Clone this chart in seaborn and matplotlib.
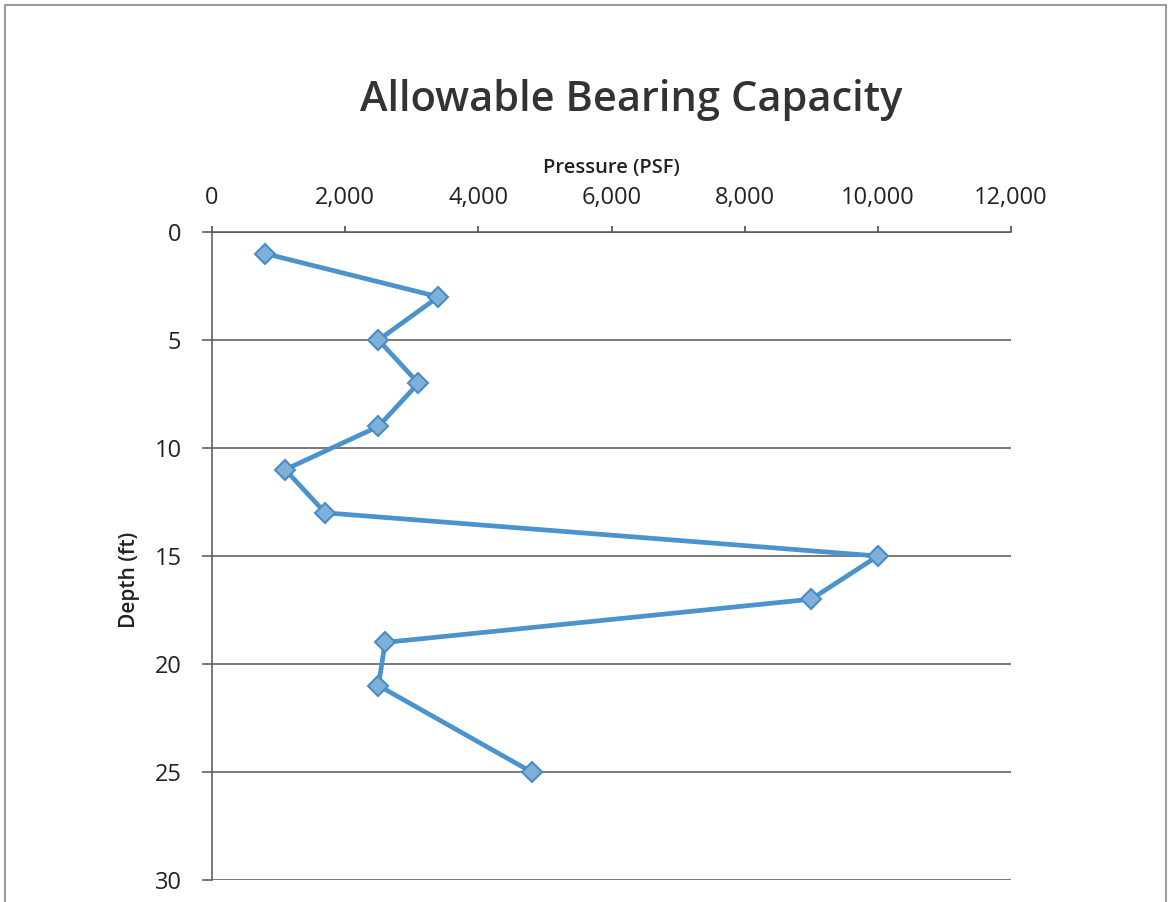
import matplotlib
matplotlib.use("Agg")
import matplotlib.pyplot as plt
import seaborn as sns
import pandas as pd
from matplotlib.ticker import FuncFormatter
from matplotlib.patches import Rectangle

depth_ft = [1, 3, 5, 7, 9, 11, 13, 15, 17, 19, 21, 25]
pressure_psf = [800, 3400, 2500, 3100, 2500, 1100, 1700, 10000, 9000, 2600, 2500, 4800]
x_ticks = [0, 2000, 4000, 6000, 8000, 10000, 12000]
y_ticks = [0, 5, 10, 15, 20, 25, 30]

df = pd.DataFrame({"Pressure": pressure_psf, "Depth": depth_ft})

sns.set_theme(style="white")
plt.rcParams['font.family'] = ['Open Sans', 'DejaVu Sans']

W, H = 1171, 902
fig = plt.figure(figsize=(W / 100, H / 100), dpi=100)
fig.patch.set_facecolor("white")
ax = fig.add_axes([212 / W, (H - 880) / H, (1011 - 212) / W, (880 - 232) / H])

sns.lineplot(data=df, x="Pressure", y="Depth", sort=False, ax=ax,
             color="#4a93cc", linewidth=3.4, marker="D", markersize=10.5,
             markerfacecolor="#7fb0da", markeredgecolor="#4a8cc4",
             markeredgewidth=1.5, estimator=None)

ax.set_xlim(0, 12000)
ax.set_ylim(30, 0)
ax.set_xticks(x_ticks)
ax.set_yticks(y_ticks)
ax.xaxis.set_major_formatter(FuncFormatter(lambda v, p: f"{int(v):,}"))
ax.xaxis.tick_top()
ax.xaxis.set_label_position("top")

ax.yaxis.grid(True, color="#555555", linewidth=1.1)
ax.xaxis.grid(False)
for s in ["right", "bottom"]:
    ax.spines[s].set_visible(False)
for s in ["left", "top"]:
    ax.spines[s].set_color("#555555")
    ax.spines[s].set_linewidth(1.1)

ax.tick_params(axis="x", which="both", top=True, direction="out", length=4,
               color="#555555", labelsize=17, pad=12, labelcolor="#222222")
ax.tick_params(axis="y", left=True, direction="out", length=7, width=1.1,
               color="#555555", labelsize=17, pad=15, labelcolor="#222222")
ax.set_xlabel("Pressure (PSF)", fontsize=14.5, fontweight="semibold", labelpad=9,
              color="#222222")
ax.set_ylabel("")
fig.text(129 / W, 1 - 580 / H, "Depth (ft)", rotation=90, ha="center", va="center",
         fontsize=15, fontweight="semibold", color="#222222")

fig.text(631 / W, 1 - 100 / H, "Allowable Bearing Capacity", ha="center", va="center",
         fontsize=30, fontweight="semibold", color="#333333")

fig.patches.append(Rectangle((5 / W, -0.05), (1166 - 5) / W, 1 - 5 / H + 0.05,
                             transform=fig.transFigure, fill=False,
                             edgecolor="#888888", linewidth=1.2))

fig.savefig("out.png", dpi=100)
